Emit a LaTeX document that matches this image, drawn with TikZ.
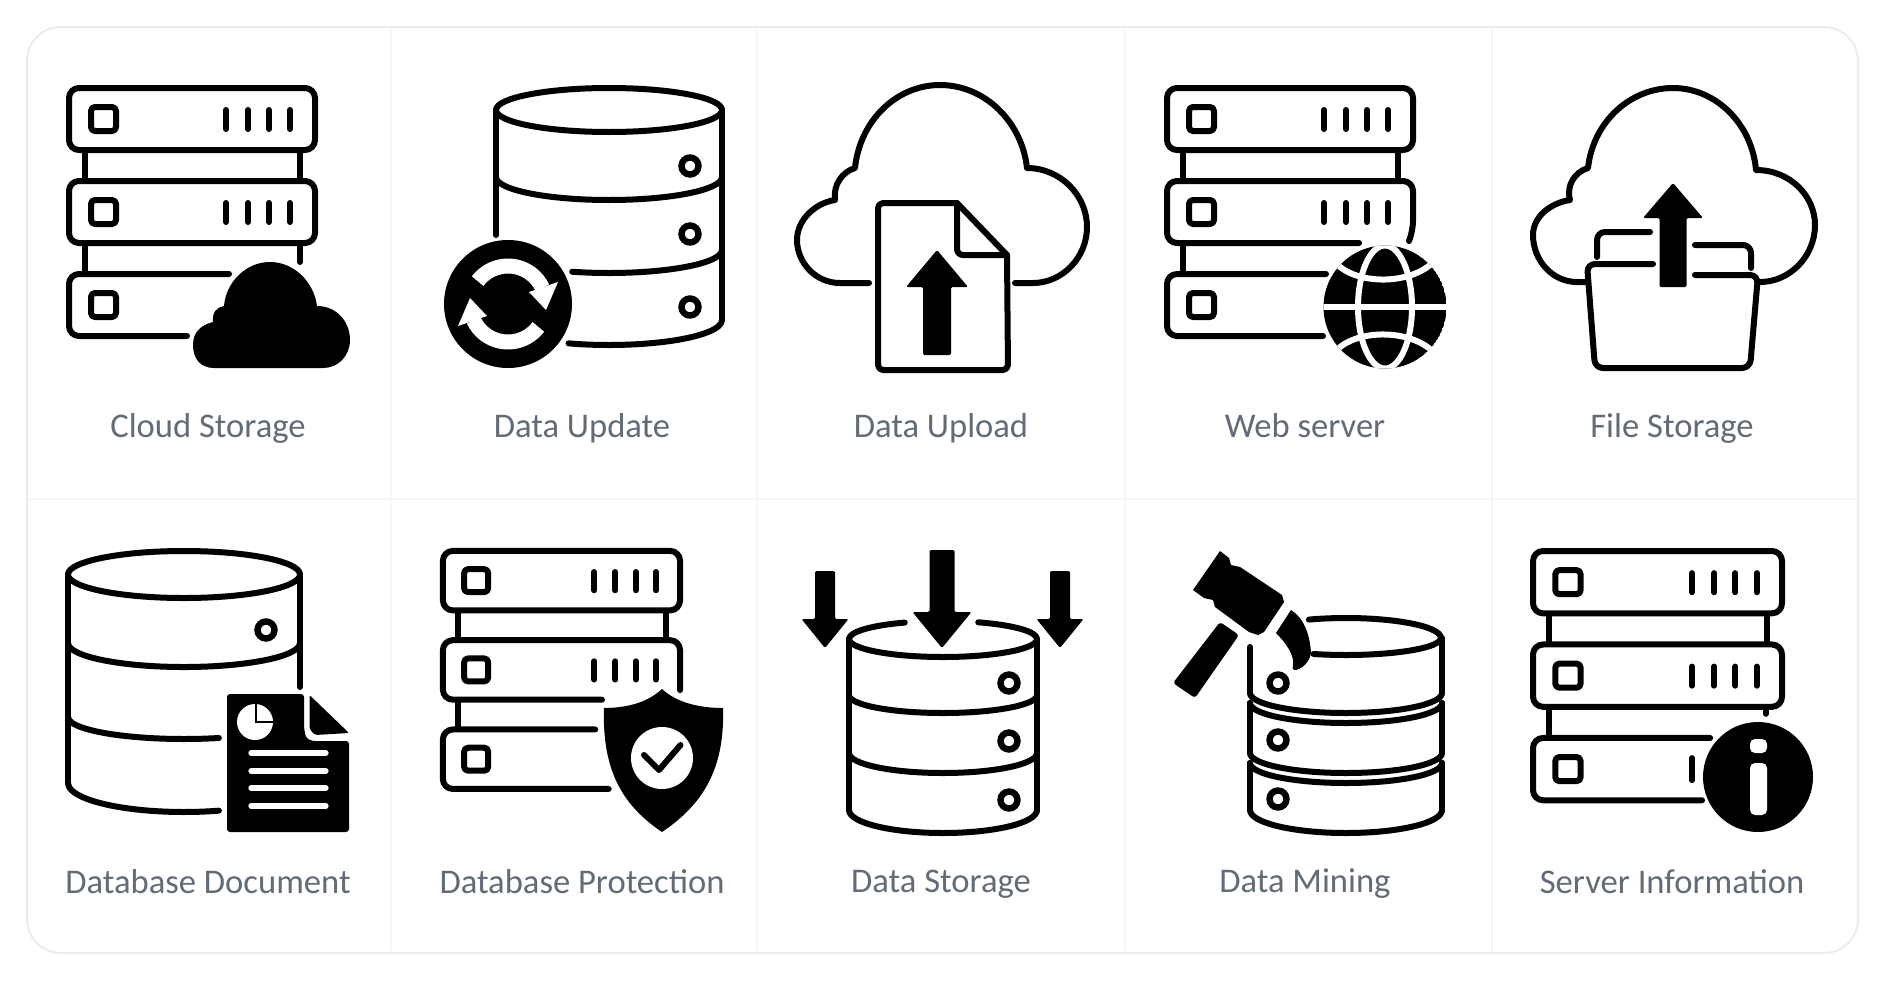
\documentclass[tikz,border=0pt]{standalone}
\usepackage{fontspec}
\setmainfont{Carlito}
\definecolor{paneledge}{HTML}{ECECEC}
\definecolor{paneldiv}{HTML}{F6F6F6}
\definecolor{labeltext}{HTML}{626B76}
\tikzset{
  iconline/.style={line width=3pt, line cap=round, line join=round, black},
  iconlabel/.style={anchor=base, inner sep=0pt, text=labeltext, font=\fontsize{17.3}{20}\selectfont},
  whiteline/.style={line width=2.6pt, line cap=round, white}
}
% rack: top box, squares, ticks, posts
\newcommand\rackbase{
  \draw[iconline, rounded corners=5pt] (3,3) rectangle (249,65);
  \foreach \ya in {0,93,186}
    \draw[iconline, rounded corners=2pt] (25,22+\ya) rectangle (50,46+\ya);
  \foreach \ya in {0,93}
    \foreach \xa in {160,182,203,224}
      \draw[iconline] (\xa,25+\ya) -- (\xa,44+\ya);
  \draw[iconline, line cap=butt] (19,65) -- (19,96) (234,65) -- (234,96) (19,158) -- (19,189);
}
\newcommand\rackbottom[2]{
  \draw[iconline, rounded corners=5pt] (#2,251) -- (3,251) -- (3,189) -- (#1,189);
}
\newcommand\dbarc[6]{
  \draw[iconline] (#1,#2) ++ (#5:#3 and #4) arc[start angle=#5, end angle=#6, x radius=#3, y radius=#4];
}
\newcommand\dbdot[2]{
  \draw[line width=3.2pt, black] (#1,#2) circle (8.5);
}
\newcommand\blockarrow[6]{
  \fill[black, rounded corners=0.7pt] (#1,#2) -- (#1+#3,#4) -- (#1+#5,#4) -- (#1+#5,#6)
    -- (#1-#5,#6) -- (#1-#5,#4) -- (#1-#3,#4) -- cycle;
}
\begin{document}
\begin{tikzpicture}[x=0.5pt, y=-0.5pt]
  \useasboundingbox (0,0) rectangle (1885,980);
  \fill[white] (0,0) rectangle (1885,980);
  % panel
  \draw[paneldiv, line width=0.8pt] (391,29) -- (391,951) (757,29) -- (757,951)
    (1125,29) -- (1125,951) (1492,29) -- (1492,951) (28,499) -- (1856,499);
  \draw[paneledge, line width=1pt] (27,27) [rounded corners=17pt] rectangle (1858,953);

  % cloud storage
  \scope[shift={(66,85)}]
    \rackbase
    \draw[iconline, rounded corners=5pt] (3,96) rectangle (249,158);
    \draw[iconline] (234,158) -- (234,177);
    \rackbottom{163}{121}
  \endscope
  \fill[black] (214,368) .. controls (200,368) and (193,358) .. (193,345)
    .. controls (193,332) and (201,325) .. (213,322)
    .. controls (212,312) and (217,307) .. (224,306)
    .. controls (226,282) and (246,262) .. (270,262)
    .. controls (294,262) and (314,282) .. (317,306)
    .. controls (337,306) and (350,322) .. (350,340)
    .. controls (350,356) and (338,368) .. (323,368) -- cycle;
  \node[iconlabel] (labelcloud) at (208,437) {Cloud Storage};

  % data update
  \draw[iconline] (609,110) ellipse [x radius=113, y radius=22];
  \draw[iconline] (722,110) -- (722,320) (496,110) -- (496,235);
  \dbarc{609}{177}{113}{23}{0}{180}
  \dbarc{609}{250}{113}{23}{0}{109}
  \dbarc{609}{320}{113}{25}{0}{111}
  \dbdot{690}{166} \dbdot{690}{234} \dbdot{690}{307}
  \fill[black] (508,304) circle (64);
  \foreach \ang in {0,180} {
    \scope[shift={(508,304)}, rotate=\ang]
      \draw[white, line width=7.5pt] (217:38) arc[start angle=217, end angle=335, radius=38];
      \fill[white] (50,-22) -- (21,-12) -- (38,6) -- cycle;
    \endscope
  }
  \node[iconlabel] (labelupdate) at (582,437) {Data Update};

  % data upload
  \draw[iconline] (869,283) -- (840,283) .. controls (815,283) and (797,262) .. (797,240)
    .. controls (797,220) and (815,203) .. (835,200)
    .. controls (833,185) and (842,172) .. (855,168)
    .. controls (860,120) and (897,85) .. (940,85)
    .. controls (985,85) and (1022,122) .. (1027,168)
    .. controls (1060,168) and (1087,195) .. (1087,227)
    .. controls (1087,258) and (1062,283) .. (1033,283) -- (1015,283);
  \draw[iconline, rounded corners=2.5pt] (957,203) -- (878,203) -- (878,370) -- (1008,370) -- (1007,255);
  \draw[iconline] (957,203) -- (1007,255);
  \draw[iconline, rounded corners=3pt] (957,205) -- (957,255) -- (1007,255);
  \blockarrow{937}{250}{31}{287}{14}{355}
  \node[iconlabel] (labelupload) at (941,437) {Data Upload};

  % web server
  \scope[shift={(1164,85)}]
    \rackbase
    \draw[iconline, rounded corners=5pt] (195,158) -- (3,158) -- (3,96) -- (249,96) -- (249,146) -- (245,156);
    \rackbottom{162}{159}
  \endscope
  \scope
    \clip (1385,307) circle (61.5);
    \fill[black] (1385,307) circle (61.5);
    \draw[white, line width=3pt] (1385,307) ellipse [x radius=27, y radius=61.5];
    \draw[white, line width=3pt] (1320,307) -- (1450,307);
    \draw[white, line width=3pt] (1335,262) .. controls (1355,286) and (1415,286) .. (1437,258);
    \draw[white, line width=3pt] (1335,352) .. controls (1355,328) and (1415,328) .. (1437,356);
  \endscope
  \node[iconlabel] (labelweb) at (1305,437) {Web server};

  % file storage
  \draw[iconline] (1587,282) -- (1577,282) .. controls (1552,282) and (1533,260) .. (1533,235)
    .. controls (1533,217) and (1550,203) .. (1570,200)
    .. controls (1566,185) and (1575,172) .. (1588,168)
    .. controls (1593,122) and (1630,88) .. (1673,88)
    .. controls (1716,88) and (1752,124) .. (1756,170)
    .. controls (1790,170) and (1815,196) .. (1815,225)
    .. controls (1815,256) and (1790,282) .. (1760,282);
  \draw[iconline, rounded corners=4pt] (1653,264) -- (1587,264) -- (1595,368) -- (1750,368) -- (1758,275) -- (1695,275);
  \draw[iconline, rounded corners=4pt] (1597,257) -- (1597,232) -- (1650,232);
  \draw[iconline, rounded corners=4pt] (1695,245) -- (1751,245) -- (1751,268);
  \blockarrow{1673}{183}{30}{218}{13.5}{287}
  \node[iconlabel] (labelfile) at (1672,437) {File Storage};

  % database document
  \draw[iconline] (184,574.5) ellipse [x radius=116, y radius=23.5];
  \draw[iconline] (300,574.5) -- (300,687) (68,574.5) -- (68,783);
  \dbarc{184}{643}{116}{24}{0}{180}
  \dbarc{184}{717}{116}{22}{180}{72.5}
  \dbarc{184}{783}{116}{29}{180}{72.5}
  \dbdot{266}{630}
  \fill[black, rounded corners=1.5pt] (227,694) -- (304,694) -- (304,728) -- (306,738) -- (312,741)
    -- (349,741) -- (349,832) -- (227,832) -- cycle;
  \fill[black, rounded corners=1pt] (309.5,695) -- (349,733) -- (315,735) -- (309.5,729) -- cycle;
  \fill[white] (255,722) circle (18);
  \draw[black, line width=1.2pt] (256,704) -- (256,722) -- (274,722);
  \foreach \ya in {753,771,788,806}
    \draw[whiteline] (251,\ya) -- (326,\ya);
  \node[iconlabel] (labeldocument) at (208,893) {Database Document};

  % database protection
  \scope[shift={(440,548)}, xscale=0.964, yscale=0.96]
    \rackbase
    \draw[iconline, rounded corners=5pt] (168,158) -- (3,158) -- (3,96) -- (249,96) -- (249,148);
    \rackbottom{161}{175}
  \endscope
  \fill[black] (662,689) .. controls (648,702) and (628,708) .. (604,708)
    .. controls (602,770) and (622,805) .. (662,832)
    .. controls (702,805) and (725,770) .. (723,708)
    .. controls (698,708) and (676,702) .. (662,689) -- cycle;
  \fill[white] (662,758) circle (31);
  \draw[iconline] (644,755) -- (659,770) -- (680.5,745);
  \node[iconlabel] (labelprotection) at (582,893) {Database Protection};

  % data storage
  \draw[iconline] (943,639) ++ (0:94 and 18) arc[start angle=0, end angle=180, x radius=94, y radius=18];
  \dbarc{943}{639}{94}{18}{180}{246}
  \dbarc{943}{639}{94}{18}{292}{360}
  \draw[iconline] (849,639) -- (849,810) (1037,639) -- (1037,810);
  \dbarc{943}{695}{94}{18}{0}{180}
  \dbarc{943}{753}{94}{20}{0}{180}
  \dbarc{943}{810}{94}{23}{0}{180}
  \dbdot{1009}{683} \dbdot{1009}{741} \dbdot{1009}{800}
  \blockarrow{942}{648}{29.5}{612}{12.5}{550}
  \blockarrow{825}{648}{23.5}{619}{10}{571}
  \blockarrow{1060}{648}{23.5}{619}{10}{571}
  \node[iconlabel] (labelstorage) at (941,892) {Data Storage};

  % data mining
  \dbarc{1346}{638}{95}{20}{247}{360}
  \dbarc{1346}{638}{95}{17}{0}{110}
  \draw[iconline] (1250,647) -- (1250,693) (1442,638) -- (1442,693);
  \dbarc{1346}{693}{96}{20}{0}{180}
  \dbarc{1346}{703}{96}{20}{0}{180}
  \draw[iconline] (1250,703) -- (1250,753) (1442,703) -- (1442,753);
  \dbarc{1346}{753}{96}{20}{0}{180}
  \dbarc{1346}{763}{96}{20}{0}{180}
  \draw[iconline] (1250,763) -- (1250,810) (1442,763) -- (1442,810);
  \dbarc{1346}{810}{96}{23}{0}{180}
  \dbdot{1278}{683} \dbdot{1278}{740} \dbdot{1278}{799}
  \fill[black] (1220,551) -- (1229,558) -- (1231,565) -- (1240,567) -- (1282,595) -- (1284,602)
    -- (1264,632) -- (1258,635) -- (1249,632) -- (1215,607) -- (1213,600) -- (1204,598) -- (1193,590) -- cycle;
  \fill[black, rounded corners=1.5pt] (1220,622) -- (1239,635) -- (1195,698) -- (1173,683) -- cycle;
  \fill[black] (1291,610) .. controls (1304,618) and (1310,635) .. (1311,653)
    .. controls (1310,660) and (1304,668) .. (1296,670)
    .. controls (1293,670) and (1292,669) .. (1293,666)
    .. controls (1295,655) and (1285,642) .. (1276,633) -- cycle;
  \node[iconlabel] (labelmining) at (1305,892) {Data Mining};

  % server information
  \scope[shift={(1530,548)}, xscale=1.012, yscale=1.005]
    \rackbase
    \draw[iconline, rounded corners=5pt] (3,96) rectangle (249,158);
    \draw[iconline] (233,158) -- (233,165);
    \rackbottom{178}{170}
    \draw[iconline] (160,209) -- (160,231);
  \endscope
  \fill[black] (1758,777) circle (55);
  \fill[white, rounded corners=2.5pt] (1750,739) rectangle (1767,753);
  \fill[white, rounded corners=2.5pt] (1750,763) rectangle (1767,815);
  \node[iconlabel] (labelinfo) at (1672,893) {Server Information};
\end{tikzpicture}
\end{document}
